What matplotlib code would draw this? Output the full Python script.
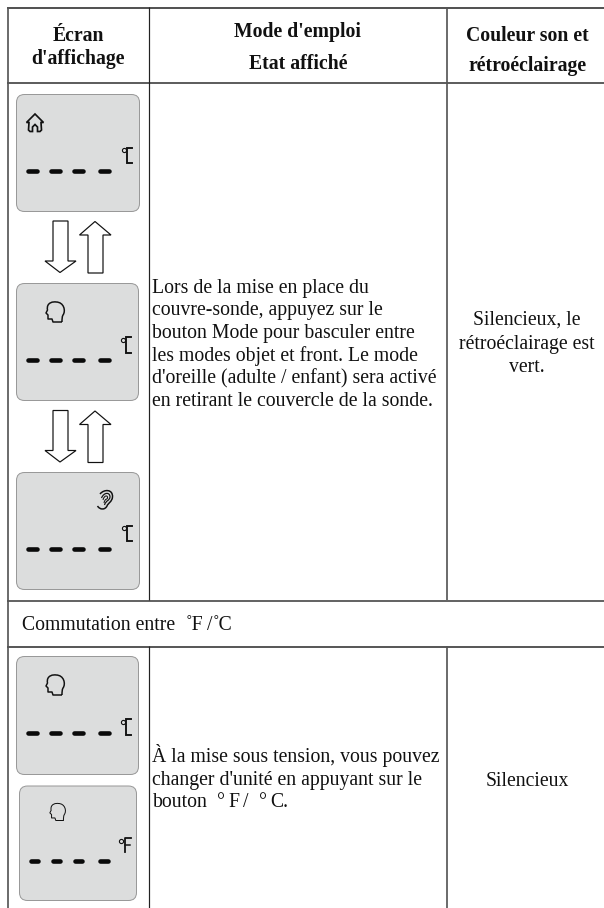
import matplotlib
matplotlib.use("Agg")
import matplotlib.pyplot as plt
from matplotlib.patches import FancyBboxPatch, Polygon, PathPatch
from matplotlib.path import Path

plt.rcParams['font.family'] = ['Liberation Serif', 'DejaVu Serif']

header_1 = ["Écran", "d'affichage"]
header_2 = ["Mode d'emploi", "Etat affiché"]
header_3 = ["Couleur son et", "rétroéclairage"]
body_1 = ["Lors de la mise en place du", "couvre-sonde, appuyez sur le",
          "bouton Mode pour basculer entre", "les modes objet et front. Le mode",
          "d'oreille (adulte / enfant) sera activé", "en retirant le couvercle de la sonde."]
status_1 = ["Silencieux, le", "rétroéclairage est", "vert."]
section = "Commutation entre"
section_units = ["˚F", "/", "˚C"]
body_2 = ["À la mise sous tension, vous pouvez", "changer d'unité en appuyant sur le"]
body_2_last = ["bouton", "°", "F", "/", "°", "C."]
status_2 = ["Silencieux"]

W, H = 604, 908
fig = plt.figure(figsize=(W/100, H/100), dpi=100)
ax = fig.add_axes([0, 0, 1, 1])
ax.set_xlim(0, W); ax.set_ylim(H, 0); ax.axis('off')

def px(v):
    return v * 72 / 100

FS = 14.2
def lines(xs, ys, txts, ha='center', weight='normal', size=FS):
    for y, t in zip(ys, txts):
        ax.text(xs, y, t, ha=ha, va='baseline', fontsize=size, fontweight=weight, color='#111111')

def pieces(xs, y, txts):
    for x, t in zip(xs, txts):
        ax.text(x, y, t, ha='left', va='baseline', fontsize=FS, color='#111111')

# Grid
for y, c in [(7.5, '#1c1c1c'), (83, '#2a2a2a'), (600.5, '#333333'), (646.5, '#222222')]:
    ax.plot([7, W], [y, y], color=c, lw=px(1.5), solid_capstyle='butt')
ax.plot([7.5, 7.5], [7, H], color='#555555', lw=px(1.7), solid_capstyle='butt')
ax.plot([148.5, 148.5], [7, 600], color='#222222', lw=px(1.2), solid_capstyle='butt')
ax.plot([148.5, 148.5], [646, H], color='#222222', lw=px(1.2), solid_capstyle='butt')
ax.plot([446.8, 446.8], [7, 600], color='#555555', lw=px(1.7), solid_capstyle='butt')
ax.plot([446.8, 446.8], [646, H], color='#555555', lw=px(1.7), solid_capstyle='butt')

# Text
lines(78, [41, 64], header_1, weight='bold')
lines(298, [37, 69], header_2, weight='bold')
lines(527, [41, 71], header_3, weight='bold')
lines(152.5, [292.5 + 22.8*i for i in range(6)], body_1, ha='left')
lines(527, [325, 349, 372.5], status_1)
lines(21.5, [630.5], [section], ha='left')
pieces([186, 207, 213], 630.5, section_units)
lines(152.5, [762, 785], body_2, ha='left')
pieces([152.5, 216.5, 228, 243, 258.5, 270], 807, body_2_last)
lines(527, [786], status_2)

def panel(x0, y0, x1, y1, dash_y, dashes):
    ax.add_patch(FancyBboxPatch((x0+7, y0+7), x1-x0-14, y1-y0-14,
                 boxstyle="round,pad=7,rounding_size=8", fc='#dcdddd', ec='#999999', lw=px(1)))
    for a, b in dashes:
        ax.plot([a, b], [dash_y, dash_y], color='#0a0a0a', lw=px(4.6), solid_capstyle='round')

def deg_c(x, y):
    ax.plot([x+5, x, x, x+5], [y, y, y+15.5, y+15.5], color='#111111', lw=px(1.9), solid_joinstyle='miter')
    ax.plot([x-3.5], [y+2.5], marker='o', ms=3, mfc='none', mec='#111111', mew=0.8)

D = [(28, 37), (51, 60), (74, 83), (100, 109)]
panel(16.5, 94.5, 139.5, 211.5, 171, D)
panel(16.5, 283.5, 138.5, 400.5, 360, D)
panel(16.5, 472.5, 139.5, 589.5, 549, D)
panel(16.5, 656.5, 138.5, 774.5, 733, D)
panel(19.5, 786, 136.5, 900.5, 861, [(31, 38), (53, 60), (75, 82), (100, 108)])
deg_c(127, 147.5); deg_c(126, 337); deg_c(127, 525.5); deg_c(126, 719)

# degree F
ax.plot([130.5, 125, 125], [838, 838, 852], color='#111111', lw=px(1.8))
ax.plot([125, 129.5], [845, 845], color='#111111', lw=px(1.5))
ax.plot([121], [841], marker='o', ms=3, mfc='none', mec='#111111', mew=0.8)

def arrow_pair(dy):
    down = [(53, 221), (68, 221), (68, 261), (76, 261), (60, 272.5), (45, 261), (53, 261)]
    up = [(88, 273), (103, 273), (103, 235), (111, 235), (95, 221.5), (79.5, 235), (88, 235)]
    for pts in (down, up):
        ax.add_patch(Polygon([(x, y + dy) for x, y in pts], closed=True, fc='white', ec='#111111', lw=px(1.2)))
arrow_pair(0); arrow_pair(189.5)

# House icon
house = [(26.5, 122.5), (35, 114), (43.5, 122.5), (41, 122.5), (41.5, 130), (40, 131.5), (37.5, 131.5),
         (37.5, 127), (35, 124.5), (32.5, 127), (32.5, 131.5), (30, 131.5), (28.5, 130), (29, 122.5)]
ax.add_patch(Polygon(house, closed=True, fc='none', ec='#111111', lw=px(1.7)))

def head(cx, cy, s=1.0, lw=1.5):
    verts = [(7, 10), (-2, 10), (-3, 7), (-7, 7), (-7, 3), (-9, 1), (-7.5, -2),
             (-9, -10), (-1, -10.5), (1, -10), (9, -10), (11, -1), (8, 3), (7, 5), (7, 7), (7, 10)]
    L, C = Path.LINETO, Path.CURVE4
    codes = [Path.MOVETO, L, L, L, L, L, L, C, C, C, C, C, C, C, C, C]
    v = [(cx + s*x, cy + s*y) for x, y in verts]
    ax.add_patch(PathPatch(Path(v, codes), fc='none', ec='#111111', lw=px(lw), joinstyle='round'))
head(55, 312); head(55, 685); head(57.5, 812, s=0.85, lw=1.0)

# Ear icon
def curve(pts, lw=1.3):
    codes = [Path.MOVETO] + [Path.CURVE4] * (len(pts) - 1)
    ax.add_patch(PathPatch(Path(pts, codes), fc='none', ec='#111111', lw=px(lw)))
curve([(100, 494), (104, 489), (113, 489), (112.5, 497), (112, 502), (108, 503), (107, 506), (105, 510), (100, 510), (97.5, 506)], lw=1.5)
curve([(101.5, 498), (104, 492), (110, 492), (110, 497), (109.5, 501), (106, 500), (104.5, 505)], lw=1.2)
curve([(103, 500), (104, 495), (108, 495), (107.5, 498), (107, 500), (105, 498), (104, 503)], lw=1.0)

fig.savefig("out.png", dpi=100)
